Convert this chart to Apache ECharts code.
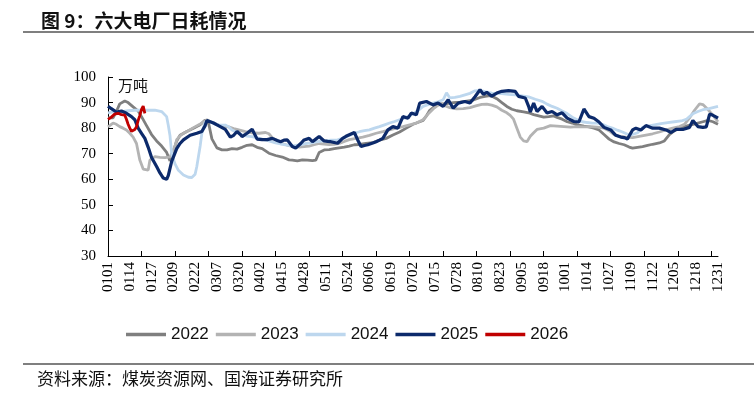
<!DOCTYPE html>
<html>
<head>
<meta charset="utf-8">
<script src="https://cdn.jsdelivr.net/npm/echarts@6/dist/echarts.min.js"></script>
<style>html,body{margin:0;padding:0;background:#fff;}#c{width:754px;height:400px;}</style>
</head>
<body>
<div id="c"></div>
<script>
// Category labels (MMDD, non-leap year)
const monthDays = [31,28,31,30,31,30,31,31,30,31,30,31];
const categories = [];
monthDays.forEach((n, m) => { for (let d = 1; d <= n; d++) categories.push(String(m + 1).padStart(2, '0') + String(d).padStart(2, '0')); });

const years = ['2022', '2023', '2024', '2025', '2026'];
const colors = ['#7f7f7f', '#b3b3b3', '#bdd7ee', '#0c2a6b', '#c00000'];

const days2022 = [0,3,5,7,10,12,15,18,20,23,26,29,32,35,37,39,41,43,47,51,55,58,60,62,65,68,71,74,77,80,83,86,89,92,96,100,104,108,110,113,116,119,122,124,126,129,132,135,138,141,144,147,150,154,158,162,166,170,174,178,182,186,188,190,192,195,198,202,206,210,214,218,222,225,228,230,232,235,238,241,244,248,251,254,257,260,263,266,268,271,274,277,280,284,287,290,293,296,299,302,305,308,311,313,316,319,322,325,329,332,335,338,341,345,349,352,355,358,361,364];
const vals2022 = [84,84,86.5,89.5,90.6,90,88.3,86.7,84.5,81,77.5,75,73,70.5,67.2,71,75,77.2,78.7,80,81.3,83.2,82,75.8,72.3,71.5,71.5,72,71.8,72.5,73.3,73.5,72.5,72,70.2,69.3,68.7,67.6,67.5,67.2,67.6,67.5,67.3,67.5,70.5,71.5,71.6,72,72.3,72.6,73,73.5,73.6,74,74.3,75.3,76,77.3,78.5,80,81.5,82.5,83,84.8,87,88.5,89.5,89.6,90,90.2,90.6,91,92,92.4,92.7,92.2,91.5,90,88.5,87.4,86.8,86.4,86,85.3,84.8,84.3,84.5,84.8,84.2,83.5,82.5,82,81.3,80.8,80.5,80,79.3,77.5,75.7,74.6,74,73.5,72.6,72.2,72.5,72.8,73.3,73.7,74.2,75,77.5,79,80,80.8,81.5,82,82.5,83,82.5,81.5];

const days2023 = [0,3,5,7,9,11,13,15,17,19,21,22,24,25,26,28,31,34,37,38,40,41,43,45,48,51,55,59,61,63,66,69,72,75,78,82,86,90,94,96,98,100,102,105,108,111,114,117,120,123,126,129,132,135,138,141,144,148,152,156,160,164,168,172,176,180,184,188,191,194,197,199,201,204,208,212,216,220,223,226,229,232,235,238,240,242,244,246,248,250,252,254,256,260,264,268,272,276,280,284,288,292,296,299,302,305,309,313,317,321,325,329,333,337,341,344,347,350,353,355,358,361,364];
const vals2023 = [80.5,82,81.5,80.6,80,79.3,78,76.5,74,67.5,64,63.8,63.6,67.5,68,68.9,68.6,68.5,68.8,69.5,73,75.5,77,78,79,80.2,81.6,83.3,82.5,82,81.2,80.8,80.5,79.8,79.3,78.6,78.2,78,78.3,77.8,76.3,75.5,74.7,73.7,73.2,72.8,72.6,72.8,73,73.5,74,73.8,73.6,73.7,74,74.8,75.5,76,76.5,77.2,78,78.6,79.3,80,80.6,81.3,82,83.3,85.5,87.5,89,89.5,88.8,88,87.5,87.6,88,88.8,89.3,89.4,89,88.3,87,86,85,83.5,80,76.5,75,74.7,76.8,78.2,79.5,80,81,80.8,80.6,80.4,80.6,80.5,80.6,80.4,80,79,77.5,76.8,76.5,76.3,76.8,77.3,77.8,78.5,79.3,80,80.6,81.5,84,87,89.5,89.2,87.3,85,82.5];

const days2024 = [0,4,8,12,16,20,24,28,32,35,36,37,38,40,42,45,48,50,52,53,54,55,56,58,60,63,66,70,72,74,77,80,83,86,89,92,96,100,103,106,109,112,115,118,121,125,129,133,137,140,143,147,150,153,156,159,162,165,168,171,174,177,180,183,185,188,191,194,197,200,202,204,207,210,213,216,219,222,225,229,232,235,239,243,247,251,255,259,262,265,268,271,274,277,280,283,286,289,292,295,298,301,304,307,310,313,316,319,322,326,330,334,338,342,345,347,349,352,355,358,361,364];
const vals2024 = [86,86.5,86.5,86.8,87,87,87,87,86.5,84.5,81,77,70,66,63.5,61.7,60.8,60.7,62,65,69,73,78,82.3,82.8,81.8,81.3,81.2,80.5,79.3,78.3,77.4,76.9,76.7,76.2,75.7,75,74.2,73.8,73.5,73.2,73.3,73.5,74,74.2,74.7,75,75.3,75.4,76,76.8,78,78.6,79,79.3,80,80.6,81.3,82,82.6,83.3,84,84.8,86,86.8,88.5,89.2,89.8,90.3,91.1,93.8,91.8,92,92.4,93,93.6,94.6,94.8,94.3,93.7,93.6,93.5,93.2,93,92.6,92.2,91.3,90.5,89.4,88.5,87.8,86.7,85.7,84.3,83.3,82.5,82.2,82,82,81.5,80.6,80,79.2,78.5,77.6,77.5,78.2,80.3,80.8,81.3,81.8,82.2,82.5,82.8,83.4,84.5,85.6,86.5,87.2,87.5,88,88.5];

const days2025 = [0,2,5,8,11,14,16,18,20,22,24,26,29,31,33,35,36,38,41,43,45,49,53,56,58,59,60,63,65,67,70,71,73,75,77,79,80,83,86,89,92,95,98,101,103,105,107,110,112,115,117,120,122,124,126,129,131,133,137,140,142,144,147,149,151,153,155,158,160,162,164,167,170,173,176,179,181,184,186,190,194,197,200,203,206,209,213,216,219,222,224,226,229,232,235,239,243,245,249,251,252,254,256,259,262,265,268,271,274,278,281,284,287,290,293,296,300,303,306,308,310,313,315,318,321,325,329,333,336,339,343,347,349,352,355,357,359,361,363,364];
const vals2025 = [88.6,87.6,86.3,86.7,85.8,84.5,83.3,80,78,76,72.5,68.5,65,62.5,60.5,60,61.5,67,72,74,75.4,77.2,78,78.7,81,83,82.9,82,81.3,80.6,79.5,79.3,76.5,77.2,78.7,77.5,76.7,78,79.6,75.7,75.5,75.5,76,75.2,74.7,75.3,75.4,72.8,72.2,74,75.4,76,74.7,75.7,76.7,75,74.8,74.7,74.1,76,76.8,77.4,78.3,75.4,72.8,73.2,73.5,74.2,74.7,75.3,76,79.3,80.6,80,84.5,83.9,85.9,85.2,89.8,90.4,89.1,89.8,88.5,91.1,87.8,89.8,90.4,89.8,92.3,95,93.2,94,92.5,93.7,94.4,94.7,94.4,92.4,91.8,88.5,86.3,89.8,86.5,88.5,85.9,86.5,85.2,86,83.9,82.6,82.4,87.5,84.5,83.9,82.4,80.3,79.3,77.2,76.5,76.3,75.8,79.3,80,79.3,81,80,80,79.3,78.3,79.5,79.5,80.3,83,80.6,80.3,80.5,85.5,85,84.3,83.9];

const days2026 = [0,1,2,3,4,5,6,7,8,9,10,11,12,13,14,15,16,17,18,19,20,21,22];
const vals2026 = [83.4,83.8,84.3,85,85.5,86,85.8,85.5,85.3,85.5,85.1,83.5,81.5,80,78.8,78.5,79.5,80.5,83,85,87.3,88.6,85.8];

const yTicks = { min: 30, max: 100, interval: 10 };

const allDays = [days2022, days2023, days2024, days2025, days2026];
const allVals = [vals2022, vals2023, vals2024, vals2025, vals2026];

const chart = echarts.init(document.getElementById('c'), null, { renderer: 'canvas' });
const serif = "'Liberation Serif', 'Times New Roman', serif";
const cjk = "'Noto Sans CJK SC', sans-serif";

chart.setOption({
  animation: false,
  backgroundColor: '#fff',
  title: {
    text: '图 9：六大电厂日耗情况',
    left: 36, top: 6,
    textStyle: { fontFamily: cjk, fontWeight: 'bold', fontSize: 19, color: '#111' }
  },
  graphic: [
    { type: 'line', shape: { x1: 23, y1: 32, x2: 754, y2: 32 }, style: { stroke: '#555', lineWidth: 1.5 } },
    { type: 'line', shape: { x1: 23, y1: 364, x2: 754, y2: 364 }, style: { stroke: '#555', lineWidth: 1.5 } },
    { type: 'text', left: 37, top: 370, style: { text: '资料来源：煤炭资源网、国海证券研究所', font: "17px 'Noto Sans CJK SC'", fill: '#111' } },
    { type: 'text', left: 118, top: 78, style: { text: '万吨', font: "15px 'Noto Sans CJK SC'", fill: '#111' } }
  ],
  legend: {
    left: 121, top: 321,
    itemWidth: 40, itemHeight: 3.5, itemGap: 7,
    icon: 'rect',
    textStyle: { fontFamily: "'Liberation Sans', Arial, sans-serif", fontSize: 17, color: '#111', padding: [0, 0, 0, 0] },
    data: years
  },
  grid: { left: 108, right: 36, top: 77, bottom: 144, containLabel: false },
  xAxis: {
    type: 'category',
    data: categories,
    boundaryGap: false,
    axisLine: { lineStyle: { color: '#000', width: 1 } },
    axisTick: { inside: true, length: 5, interval: 19, lineStyle: { color: '#000' } },
    axisLabel: { interval: 12, rotate: 90, margin: 6, fontFamily: serif, fontSize: 15, color: '#000' },
    splitLine: { show: false }
  },
  yAxis: {
    type: 'value',
    min: yTicks.min, max: yTicks.max, interval: yTicks.interval,
    axisLine: { show: true, lineStyle: { color: '#000', width: 1 } },
    axisTick: { show: true, inside: true, length: 5, lineStyle: { color: '#000' } },
    axisLabel: { margin: 12, fontFamily: serif, fontSize: 15, color: '#000' },
    splitLine: { show: false }
  },
  series: years.map((y, i) => ({
    name: y,
    type: 'line',
    data: allDays[i].map((d, k) => [d, allVals[i][k]]),
    showSymbol: false,
    symbol: 'none',
    lineStyle: { color: colors[i], width: i === 3 ? 3.2 : 2.8 },
    itemStyle: { color: colors[i] },
    z: 2 + i
  }))
});
</script>
</body>
</html>
